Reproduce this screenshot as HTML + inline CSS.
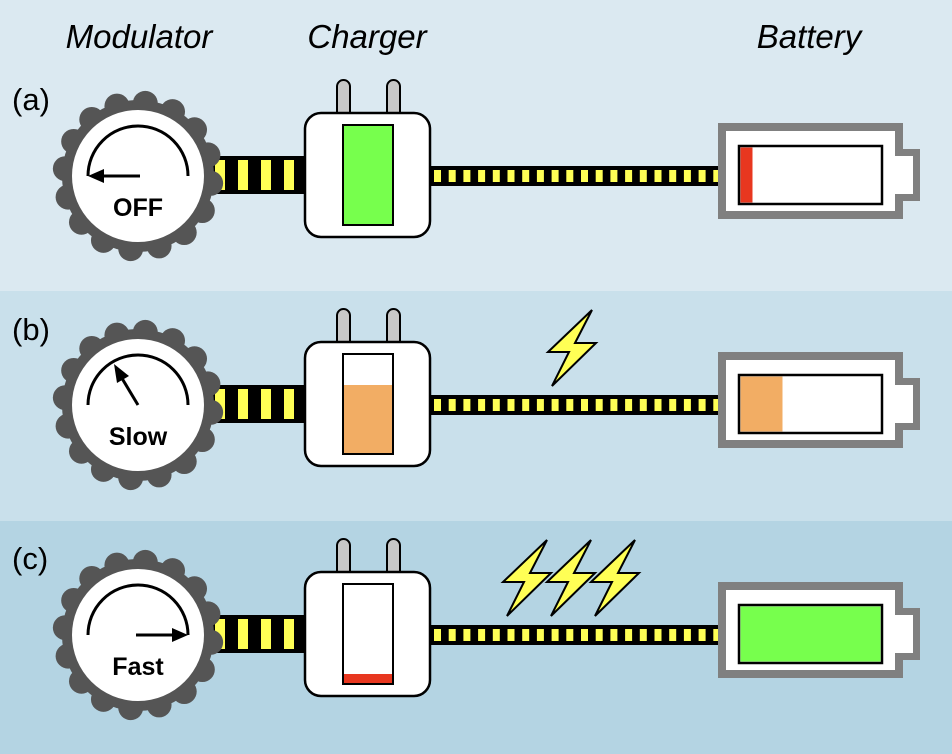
<!DOCTYPE html>
<html><head><meta charset="utf-8"><style>
html,body{margin:0;padding:0;background:#dbe9f1}
svg{display:block}
text{font-family:"Liberation Sans",sans-serif}
</style></head><body>
<svg id="s" width="952" height="754" viewBox="0 0 952 754" xmlns="http://www.w3.org/2000/svg">
<rect x="0" y="0" width="952" height="291" fill="#dbe9f1"/>
<rect x="0" y="291" width="952" height="230" fill="#c9e0eb"/>
<rect x="0" y="521" width="952" height="233" fill="#b4d4e3"/>
<text x="139" y="48" font-size="33" font-style="italic" text-anchor="middle">Modulator</text>
<text x="367" y="48" font-size="33" font-style="italic" text-anchor="middle">Charger</text>
<text x="809" y="48" font-size="33" font-style="italic" text-anchor="middle">Battery</text>
<text x="12" y="110" font-size="31">(a)</text>
<text x="12" y="340" font-size="31">(b)</text>
<text x="12" y="569" font-size="31">(c)</text>
<g id="panels"></g>
</svg>
<script>
const P=document.getElementById('panels');
let h='';
const bolt=(x,y)=>`<path d="M${x+44},${y} L${x},${y+42} L${x+21},${y+42} L${x+4},${y+76} L${x+48},${y+33} L${x+27},${y+33} Z" fill="#ffff55" stroke="#000" stroke-width="2" stroke-linejoin="miter"/>`;
const dys=[0,229,459];
dys.forEach((dy,i)=>{
 const cy=176+dy, cx=138;
 h+=`<rect x="200" y="${cy-20}" width="108" height="38" fill="#000"/>`;
 for(let x=215;x<305;x+=23) h+=`<rect x="${x}" y="${cy-16}" width="10" height="30" fill="#ffff55"/>`;
 h+=`<circle cx="${cx}" cy="${cy}" r="76" fill="#555"/>`;
 for(let k=0;k<16;k++){const a=k*Math.PI*2/16+0.1;h+=`<circle cx="${cx+73*Math.cos(a)}" cy="${cy+73*Math.sin(a)}" r="12.5" fill="#555"/>`;}
 h+=`<circle cx="${cx}" cy="${cy}" r="66" fill="#fff"/>`;
 h+=`<path d="M${cx-50},${cy} A50,50 0 0 1 ${cx+50},${cy}" fill="none" stroke="#000" stroke-width="3"/>`;
 let lbl=['OFF','Slow','Fast'][i];
 if(i==0){h+=`<line x1="${cx+2}" y1="${cy}" x2="${cx-38}" y2="${cy}" stroke="#000" stroke-width="3"/><path d="M${cx-50},${cy} l16,-7 l0,14 z" fill="#000"/>`;}
 if(i==1){h+=`<line x1="${cx}" y1="${cy}" x2="${cx-18}" y2="${cy-30}" stroke="#000" stroke-width="3"/><path d="M${cx-24},${cy-41} l3,19 l12,-7 z" fill="#000"/>`;}
 if(i==2){h+=`<line x1="${cx-2}" y1="${cy}" x2="${cx+38}" y2="${cy}" stroke="#000" stroke-width="3"/><path d="M${cx+50},${cy} l-16,-7 l0,14 z" fill="#000"/>`;}
 h+=`<text x="${cx}" y="${cy+40}" font-size="25" font-weight="bold" text-anchor="middle">${lbl}</text>`;
 h+=`<rect x="428" y="${cy-10}" width="292" height="20" fill="#000"/>`;
 for(let x=434;x<716;x+=14.7) h+=`<rect x="${x}" y="${cy-6}" width="7" height="12" fill="#ffff55"/>`;
 const ty=113+dy;
 h+=`<rect x="337" y="${ty-33}" width="13" height="40" rx="6.5" fill="#c8c8c8" stroke="#000" stroke-width="2"/>`;
 h+=`<rect x="387" y="${ty-33}" width="13" height="40" rx="6.5" fill="#c8c8c8" stroke="#000" stroke-width="2"/>`;
 h+=`<rect x="305" y="${ty}" width="125" height="124" rx="16" fill="#fff" stroke="#000" stroke-width="2.5"/>`;
 if(i==0) h+=`<rect x="343" y="${ty+12}" width="50" height="100" fill="#77ff4d" stroke="#000" stroke-width="2"/>`;
 if(i==1) h+=`<rect x="343" y="${ty+12}" width="50" height="100" fill="#fff" stroke="#000" stroke-width="2"/><rect x="344" y="${ty+43}" width="48" height="68" fill="#f2ad64"/>`;
 if(i==2) h+=`<rect x="343" y="${ty+12}" width="50" height="100" fill="#fff" stroke="#000" stroke-width="2"/><rect x="344" y="${ty+102}" width="48" height="9" fill="#e8371f"/>`;
 const by=cy-49;
 h+=`<rect x="896" y="${by+22}" width="24" height="52" fill="#808080"/>`;
 h+=`<rect x="722" y="${by}" width="177" height="88" fill="#fff" stroke="#808080" stroke-width="8"/>`;
 h+=`<rect x="895" y="${by+29}" width="18" height="38" fill="#fff"/>`;
 h+=`<rect x="739" y="${by+19}" width="143" height="58" fill="#fff" stroke="#000" stroke-width="2.5"/>`;
 if(i==0) h+=`<rect x="740.5" y="${by+20.5}" width="12" height="55" fill="#e8371f"/>`;
 if(i==1) h+=`<rect x="740.5" y="${by+20.5}" width="42" height="55" fill="#f2ad64"/>`;
 if(i==2) h+=`<rect x="740.5" y="${by+20.5}" width="140" height="55" fill="#77ff4d"/>`;
});
h+=bolt(548,310);
h+=bolt(503,540);h+=bolt(547,540);h+=bolt(591,540);
P.innerHTML=h;
</script>
</body></html>
